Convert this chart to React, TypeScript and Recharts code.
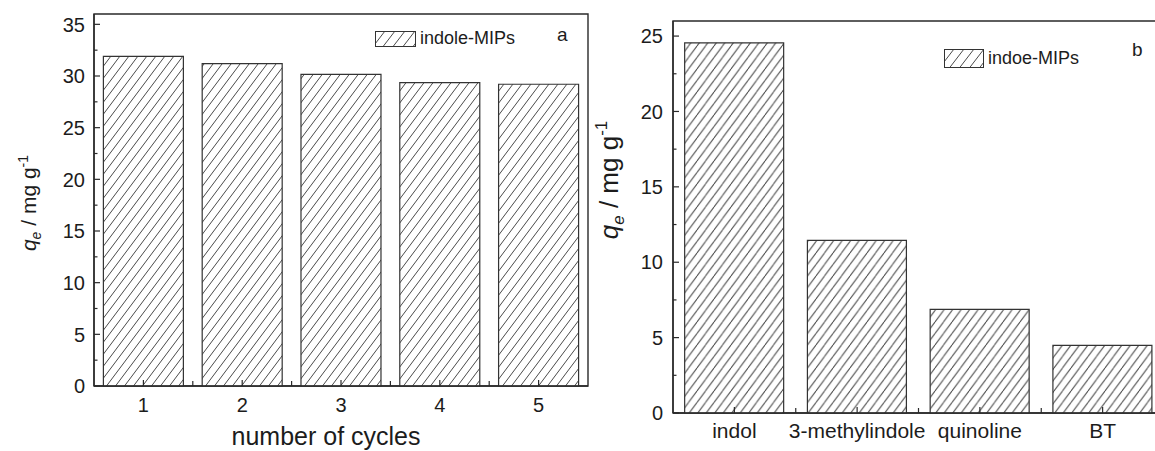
import React from 'react';
import { BarChart, Bar, XAxis, YAxis, Legend, ReferenceArea } from 'recharts';

// ---- data ----
const cycleLabels = ['1', '2', '3', '4', '5'];
const cycleValues = [31.9, 31.2, 30.15, 29.35, 29.2];
const compoundLabels = ['indol', '3-methylindole', 'quinoline', 'BT'];
const compoundValues = [24.55, 11.45, 6.87, 4.48];
const yTicksA = [0, 2.5, 5, 7.5, 10, 12.5, 15, 17.5, 20, 22.5, 25, 27.5, 30, 32.5, 35];
const yTicksB = [0, 2.5, 5, 7.5, 10, 12.5, 15, 17.5, 20, 22.5, 25];
const domainA: [number, number] = [0, 36];
const domainB: [number, number] = [0, 26];
const legendA = 'indole-MIPs';
const legendB = 'indoe-MIPs';
const xTitleA = 'number of cycles';

const dataA = cycleLabels.map((name, i) => ({ name, value: cycleValues[i] }));
const dataB = compoundLabels.map((name, i) => ({ name, value: compoundValues[i] }));

// ---- styles ----
const FONT = '"Liberation Sans", Arial, Helvetica, sans-serif';
const AX = '#2a2a2a';
const TXT = '#1c1c1c';
const HATCH = '#4a4a4a';

const HatchPattern = ({ id, w, h }: { id: string; w: number; h: number }) => (
  <pattern id={id} patternUnits="userSpaceOnUse" width={w} height={h}>
    <rect x={0} y={0} width={w} height={h} fill="#fff" />
    <path
      d={`M${-w},${h} L0,0 M0,${h} L${w},0 M${w},${h} L${2 * w},0`}
      stroke={HATCH}
      strokeWidth={1}
    />
  </pattern>
);

const makeYTick = (labelGap: number, fontSize: number) => (props: any) => {
  const { x, y, payload } = props;
  const v = payload.value as number;
  const major = Math.abs(v % 5) < 1e-9;
  return (
    <g>
      <line x1={x} x2={x + (major ? 6 : 3.5)} y1={y} y2={y} stroke={AX} strokeWidth={1.2} />
      {major && (
        <text
          x={x - labelGap}
          y={y}
          dy="0.36em"
          textAnchor="end"
          fontSize={fontSize}
          fontFamily={FONT}
          fill={TXT}
        >
          {v}
        </text>
      )}
    </g>
  );
};

const makeXTick = (count: number, baseline: number, fontSize: number) => (props: any) => {
  const { x, y, payload, index } = props;
  const half = payload && typeof payload.offset === 'number' ? payload.offset : 0;
  return (
    <g>
      <line x1={x} x2={x} y1={y} y2={y - 6} stroke={AX} strokeWidth={1.2} />
      {index < count - 1 && half > 0 && (
        <line x1={x + half} x2={x + half} y1={y} y2={y - 5} stroke={AX} strokeWidth={1.2} />
      )}
      <text x={x} y={y + baseline} textAnchor="middle" fontSize={fontSize} fontFamily={FONT} fill={TXT}>
        {payload.value}
      </text>
    </g>
  );
};

const makeYTitle = (baseX: number, dyCenter: number, fontSize: number) => (props: any) => {
  const vb = props.viewBox || { x: 0, y: 0, width: 0, height: 0 };
  const bx = vb.x + baseX;
  const cy = vb.y + vb.height / 2 + dyCenter;
  const small = Math.round(fontSize * 0.65);
  return (
    <text
      x={bx}
      y={cy}
      transform={`rotate(-90, ${bx}, ${cy})`}
      textAnchor="middle"
      fontSize={fontSize}
      fontFamily={FONT}
      fill={TXT}
    >
      <tspan fontStyle="italic">q</tspan>
      <tspan fontStyle="italic" fontSize={small} dy={fontSize * 0.25}>e</tspan>
      <tspan dy={-fontSize * 0.25}> / mg g</tspan>
      <tspan fontSize={small} dy={-fontSize * 0.4}>-1</tspan>
    </text>
  );
};

const makeXTitle = (text: string, baseline: number, dx: number, fontSize: number) => (props: any) => {
  const vb = props.viewBox || { x: 0, y: 0, width: 0, height: 0 };
  return (
    <text
      x={vb.x + vb.width / 2 + dx}
      y={vb.y + baseline}
      textAnchor="middle"
      fontSize={fontSize}
      fontFamily={FONT}
      fill={TXT}
    >
      {text}
    </text>
  );
};

const makeLegend = (
  id: string,
  label: string,
  boxW: number,
  boxH: number,
  textLeft: number,
  textTop: number,
  letter: string,
  letterLeft: number,
  letterTop: number
) => () => (
  <div style={{ position: 'relative', width: 240, height: 24, fontFamily: FONT, color: TXT }}>
    <svg width={boxW + 1} height={boxH + 1} style={{ position: 'absolute', left: 0, top: 0 }}>
      <defs>
        <HatchPattern id={id} w={10} h={13} />
      </defs>
      <rect x={0.5} y={0.5} width={boxW} height={boxH} fill={`url(#${id})`} stroke="#333" strokeWidth={1} />
    </svg>
    <span
      style={{
        position: 'absolute',
        left: textLeft,
        top: textTop,
        fontSize: 18,
        lineHeight: '16px',
        whiteSpace: 'nowrap',
      }}
    >
      {label}
    </span>
    <span
      style={{
        position: 'absolute',
        left: letterLeft,
        top: letterTop,
        fontSize: 19,
        lineHeight: '20px',
      }}
    >
      {letter}
    </span>
  </div>
);

const axisLine = { stroke: AX, strokeWidth: 1.4 };

export default function App() {
  return (
    <div
      style={{
        position: 'absolute',
        left: 0,
        top: 0,
        width: 1155,
        height: 451,
        overflow: 'hidden',
        background: '#fff',
      }}
    >
      {/* Panel a */}
      <div style={{ position: 'absolute', left: 0, top: 0 }}>
        <BarChart
          width={600}
          height={451}
          data={dataA}
          margin={{ top: 14, right: 12, bottom: 0, left: 0 }}
          barCategoryGap="9.5%"
        >
          <defs>
            <HatchPattern id="hatchA" w={9} h={12} />
          </defs>
          <XAxis
            dataKey="name"
            height={65}
            interval={0}
            tickSize={0}
            tickMargin={0}
            tickLine={false}
            axisLine={axisLine}
            tick={makeXTick(cycleLabels.length, 26, 20)}
            label={{ content: makeXTitle(xTitleA, 59, -15, 25) }}
          />
          <YAxis
            width={94}
            domain={domainA}
            ticks={yTicksA}
            interval={0}
            tickSize={0}
            tickMargin={0}
            tickLine={false}
            axisLine={axisLine}
            tick={makeYTick(9, 20)}
            label={{ content: makeYTitle(36, 3, 21) }}
          />
          <ReferenceArea
            y1={domainA[0]}
            y2={domainA[1]}
            fill="none"
            stroke={AX}
            strokeWidth={1.4}
            ifOverflow="visible"
          />
          <Legend
            layout="horizontal"
            verticalAlign="middle"
            align="center"
            wrapperStyle={{ position: 'absolute', left: 375, top: 31, width: 240, height: 24 }}
            content={makeLegend('lgA', legendA, 40, 15, 45, -1, 'a', 182, -6)}
          />
          <Bar
            dataKey="value"
            name={legendA}
            fill="url(#hatchA)"
            stroke="#333"
            strokeWidth={1.2}
            isAnimationActive={false}
          />
        </BarChart>
      </div>

      {/* Panel b */}
      <div style={{ position: 'absolute', left: 578, top: 0 }}>
        <BarChart
          width={592}
          height={451}
          data={dataB}
          margin={{ top: 21, right: 6, bottom: 0, left: 0 }}
          barCategoryGap="9.5%"
        >
          <defs>
            <HatchPattern id="hatchB" w={8.5} h={11.5} />
          </defs>
          <XAxis
            dataKey="name"
            height={38}
            interval={0}
            tickSize={0}
            tickMargin={0}
            tickLine={false}
            axisLine={axisLine}
            tick={makeXTick(compoundLabels.length, 24.5, 21)}
          />
          <YAxis
            width={95}
            domain={domainB}
            ticks={yTicksB}
            interval={0}
            tickSize={0}
            tickMargin={0}
            tickLine={false}
            axisLine={axisLine}
            tick={makeYTick(10, 20)}
            label={{ content: makeYTitle(39.5, -37, 26) }}
          />
          <ReferenceArea
            y1={domainB[0]}
            y2={domainB[1]}
            fill="none"
            stroke={AX}
            strokeWidth={1.4}
            ifOverflow="visible"
          />
          <Legend
            layout="horizontal"
            verticalAlign="middle"
            align="center"
            wrapperStyle={{ position: 'absolute', left: 366, top: 49, width: 240, height: 24 }}
            content={makeLegend('lgB', legendB, 39, 18, 44, 1, 'b', 188, -9)}
          />
          <Bar
            dataKey="value"
            name={legendB}
            fill="url(#hatchB)"
            stroke="#333"
            strokeWidth={1.2}
            isAnimationActive={false}
          />
        </BarChart>
      </div>
    </div>
  );
}
